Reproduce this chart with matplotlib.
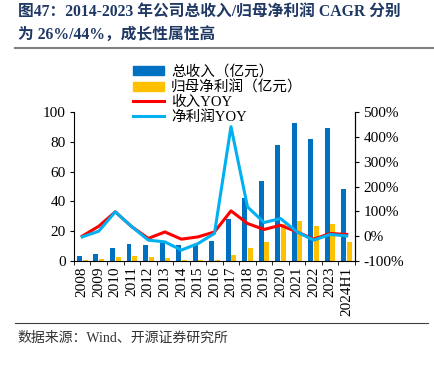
import numpy as np
import matplotlib.pyplot as plt
from matplotlib.patches import Patch
from matplotlib.lines import Line2D

years = ["2008", "2009", "2010", "2011", "2012", "2013", "2014", "2015", "2016",
         "2017", "2018", "2019", "2020", "2021", "2022", "2023", "2024H1"]
revenue = [3.2, 4.5, 8.5, 11.4, 10.5, 12.5, 10.7, 10.8, 13.6,
           28.2, 42, 54, 78, 92.6, 82, 89.5, 48]
profit = [1.0, 1.2, 2.5, 3.4, 2.7, 2.3, 0.8, 0.5, 0.6,
          4.0, 8.5, 13, 25, 27, 23.5, 25, 13]
rev_yoy = [0, 40, 98, 38, -9, 17, -12, -3, 17,
           102, 51, 27, 44, 17, -12, 11, 7]
profit_yoy = [-3, 20, 98, 38, -16, -23, -56, -30, 11,
              441, 118, 55, 71, 17, -16, 7, 1]

serif = ['Liberation Serif', 'Noto Sans CJK SC']

fig = plt.figure(figsize=(4.35, 3.71), dpi=100)
ax = fig.add_axes([0.170, 0.2965, 0.646, 0.4015])
ax2 = ax.twinx()

x = np.arange(len(years))
w = 0.3
ax.bar(x - 0.17, revenue, w, color='#0070C0', zorder=2)
ax.bar(x + 0.17, profit, w, color='#FFC000', zorder=2)
ax2.plot(x, rev_yoy, color='#FF0000', lw=2.2, zorder=3)
ax2.plot(x, profit_yoy, color='#00B0F0', lw=2.2, zorder=4)

ax.set_xlim(-0.5, len(years) - 0.5)
ax.set_ylim(0, 100)
ax.set_yticks(range(0, 101, 20))
ax2.set_ylim(-100, 500)
ax2.set_yticks(range(-100, 501, 100))
ax2.set_yticklabels([f"{v}%" for v in range(-100, 501, 100)])

ax.set_xticks(x)
ax.set_xticklabels(years, rotation=90)
ax.set_xticks(np.arange(-0.5, len(years), 1), minor=True)
ax.tick_params(axis='x', which='major', length=0, pad=4)
ax.tick_params(axis='x', which='minor', length=3, direction='out')
for a in (ax, ax2):
    a.spines['top'].set_visible(False)
    for s in a.spines.values():
        s.set_linewidth(0.8)
    for lab in a.get_xticklabels() + a.get_yticklabels():
        lab.set_family(serif)
        lab.set_fontsize(11)
ax.tick_params(axis='y', length=3, pad=3)
ax2.tick_params(axis='y', length=3, pad=3)
ax2.spines['left'].set_visible(False)
ax2.spines['bottom'].set_visible(False)

handles = [Patch(color='#0070C0'), Patch(color='#FFC000'),
           Line2D([], [], color='#FF0000', lw=2.2),
           Line2D([], [], color='#00B0F0', lw=2.2)]
labels = ["总收入（亿元）", "归母净利润（亿元）", "收入YOY", "净利润YOY"]
fig.legend(handles, labels, loc='upper left', bbox_to_anchor=(133 / 435, 1 - 65 / 371),
           frameon=False, prop={'family': serif, 'size': 10.5},
           handlelength=2.1, handleheight=0.6, handletextpad=0.5,
           labelspacing=0.1, borderpad=0, borderaxespad=0)

title_color = '#1F3864'
fig.text(18 / 435, 1 - 13 / 371, "图47：2014-2023 年公司总收入/归母净利润 CAGR 分别",
         family=serif, fontsize=11.3, fontweight='bold', color=title_color, va='center')
fig.text(18 / 435, 1 - 35 / 371, "为 26%/44%，成长性属性高",
         family=serif, fontsize=11.3, fontweight='bold', color=title_color, va='center')
fig.add_artist(Line2D([15 / 435, 1], [1 - 48 / 371, 1 - 48 / 371], color='#808080', lw=1.5))
fig.add_artist(Line2D([15 / 435, 428 / 435], [1 - 323 / 371, 1 - 323 / 371], color='#404040', lw=0.8))
fig.text(17 / 435, 1 - 338 / 371, "数据来源：Wind、开源证券研究所",
         family=serif, fontsize=10, color='#333333', va='center')

fig.savefig('out.png', dpi=100)
